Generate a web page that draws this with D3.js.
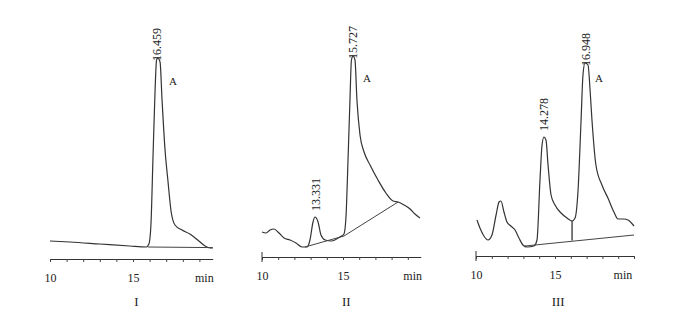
<!DOCTYPE html>
<html>
<head>
<meta charset="utf-8">
<script src="https://cdn.jsdelivr.net/npm/d3@7"></script>
<style>
  body { margin: 0; background: #fff; }
  svg text { font-family: "Liberation Serif", "DejaVu Serif", serif; fill: #222; }
</style>
</head>
<body>
<div id="container"></div>
<script>
// chromatogram traces, [time (min), signal]
const trace1 = [[10, 4.5], [11.2, 4], [13.0, 3], [14.8, 2], [15.8, 1.5], [15.96, 3], [16.08, 12.5],
  [16.2, 45], [16.33, 80], [16.42, 95], [16.5, 96], [16.63, 94], [16.75, 75], [16.93, 50],
  [17.1, 35], [17.3, 19], [17.53, 12.5], [17.95, 10], [18.43, 8], [18.9, 5], [19.34, 2],
  [19.64, 1], [19.82, 1]];
const trace2 = [[10, 9], [10.25, 8.5], [10.5, 10], [10.74, 10.5], [11.05, 8.5], [11.36, 6],
  [11.73, 5], [12.1, 3.5], [12.47, 1.5], [12.78, 1.5], [12.96, 5], [13.15, 14], [13.27, 16.5],
  [13.46, 14], [13.64, 7.5], [13.9, 5], [14.3, 4.5], [14.8, 6.5], [15.06, 8], [15.19, 17.5],
  [15.31, 45], [15.43, 75], [15.52, 95], [15.62, 97], [15.74, 95], [15.86, 75], [16.05, 57.5],
  [16.3, 49], [16.67, 42.5], [17.16, 35], [17.65, 28.5], [18.09, 24.5], [18.4, 24],
  [18.77, 22.5], [19.14, 20.5], [19.44, 18], [19.75, 16]];
const trace3 = [[10.06, 15], [10.25, 11], [10.5, 7], [10.76, 5], [11.01, 7.5], [11.27, 17.5],
  [11.46, 24], [11.58, 24.5], [11.77, 19], [11.96, 14], [12.2, 12], [12.47, 10], [12.72, 6],
  [12.97, 2.5], [13.23, 1.5], [13.67, 2], [13.86, 5], [14.05, 35], [14.18, 52.5], [14.3, 56.5],
  [14.43, 55], [14.56, 42.5], [14.75, 27.5], [15.0, 22.5], [15.38, 18.5], [15.76, 16],
  [16.08, 14.5], [16.27, 16], [16.46, 30], [16.65, 65], [16.77, 87.5], [16.9, 93.5],
  [17.09, 92.5], [17.22, 80], [17.34, 65], [17.59, 42.5], [17.97, 32.5], [18.35, 26],
  [18.73, 19], [18.99, 15.5], [19.37, 15.5], [19.62, 15], [20.0, 12]];

// integration baselines
const base1 = [[15.9, 1.5], [19.8, 1.2]];
const base2 = [[12.65, 1.5], [15.06, 7], [18.4, 24]];
const base3 = [[13.1, 2], [20.0, 7.5]];
// drop lines [time, from signal, to signal]
const drops3 = [[16.08, 14.5, 4.8]];

// peak labels [time, signal, text]
const peaks1 = [[16.46, 96, '16.459']];
const peaks2 = [[13.31, 16.5, '13.331'], [15.62, 97, '15.727']];
const peaks3 = [[14.3, 56.5, '14.278'], [16.95, 93.5, '16.948']];

const tickLabels = [10, 15];
const panelNames = ['I', 'II', 'III'];

const width = 675;
const height = 318;

const svg = d3.select('#container').append('svg')
  .attr('width', width)
  .attr('height', height);

// y scale shared by all panels
const yScale = d3.scaleLinear().domain([0, 100]).range([250, 50]);

const panels = [
  { trace: trace1, base: base1, peaks: peaks1, drops: [], x0: 50, ppm: 16.6, tMax: 19.8, axisY: 259, aPos: [173, 85], startTick: false },
  { trace: trace2, base: base2, peaks: peaks2, drops: [], x0: 262, ppm: 16.2, tMax: 19.8, axisY: 257, aPos: [367, 82], startTick: true },
  { trace: trace3, base: base3, peaks: peaks3, drops: drops3, x0: 476, ppm: 15.8, tMax: 20.0, axisY: 256, aPos: [599, 82], startTick: true }
];

panels.forEach((p, i) => {
  const xScale = d3.scaleLinear()
    .domain([10, p.tMax])
    .range([p.x0, p.x0 + (p.tMax - 10) * p.ppm]);

  const line = d3.line()
    .x(d => xScale(d[0]))
    .y(d => yScale(d[1]))
    .curve(d3.curveMonotoneX);

  const g = svg.append('g');

  //trace
  g.append('path')
    .datum(p.trace)
    .attr('fill', 'none')
    .attr('stroke', '#333')
    .attr('stroke-width', 1.2)
    .attr('d', line);

  //baseline
  g.append('path')
    .datum(p.base)
    .attr('fill', 'none')
    .attr('stroke', '#444')
    .attr('stroke-width', 1)
    .attr('d', d3.line().x(d => xScale(d[0])).y(d => yScale(d[1])));

  //drop lines
  g.selectAll('.drop')
    .data(p.drops)
    .enter()
    .append('line')
    .attr('stroke', '#333')
    .attr('stroke-width', 1.3)
    .attr('x1', d => xScale(d[0]))
    .attr('x2', d => xScale(d[0]))
    .attr('y1', d => yScale(d[1]))
    .attr('y2', d => yScale(d[2]));

  //peak labels, rotated; the tall ones sit right on the apex
  g.selectAll('.peak')
    .data(p.peaks)
    .enter()
    .append('text')
    .attr('transform', d => {
      const off = d[1] > 90 ? 3 : -6;
      return 'translate(' + (xScale(d[0]) + 4) + ',' + (yScale(d[1]) + off) + ') rotate(-90)';
    })
    .attr('font-size', 12)
    .text(d => d[2]);

  //peak A mark
  g.append('text')
    .attr('x', p.aPos[0])
    .attr('y', p.aPos[1])
    .attr('font-size', 11)
    .attr('text-anchor', 'middle')
    .text('A');

  //X axis
  const axis = g.append('g')
    .attr('transform', 'translate(0,' + p.axisY + ')')
    .call(d3.axisBottom(xScale)
      .tickValues(d3.range(10, Math.floor(p.tMax) + 1))
      .tickSize(3)
      .tickSizeOuter(0)
      .tickPadding(11)
      .tickFormat(d => tickLabels.includes(d) ? d : ''));
  axis.select('.domain').attr('stroke', '#333');
  axis.selectAll('.tick line').attr('stroke', '#444');
  axis.selectAll('.tick text').attr('font-size', 12).attr('font-family', '"Liberation Serif", serif').attr('fill', '#222');

  if (p.startTick) {
    g.append('line')
      .attr('x1', xScale(10)).attr('x2', xScale(10))
      .attr('y1', p.axisY - 5).attr('y2', p.axisY + 5)
      .attr('stroke', '#333');
  }

  //unit label
  g.append('text')
    .attr('x', xScale(19.3))
    .attr('y', p.axisY + 23)
    .attr('font-size', 12)
    .attr('text-anchor', 'middle')
    .text('min');

  //panel name
  g.append('text')
    .attr('x', xScale(15.2))
    .attr('y', 306)
    .attr('font-size', 13)
    .attr('text-anchor', 'middle')
    .text(panelNames[i]);
});
</script>
</body>
</html>
